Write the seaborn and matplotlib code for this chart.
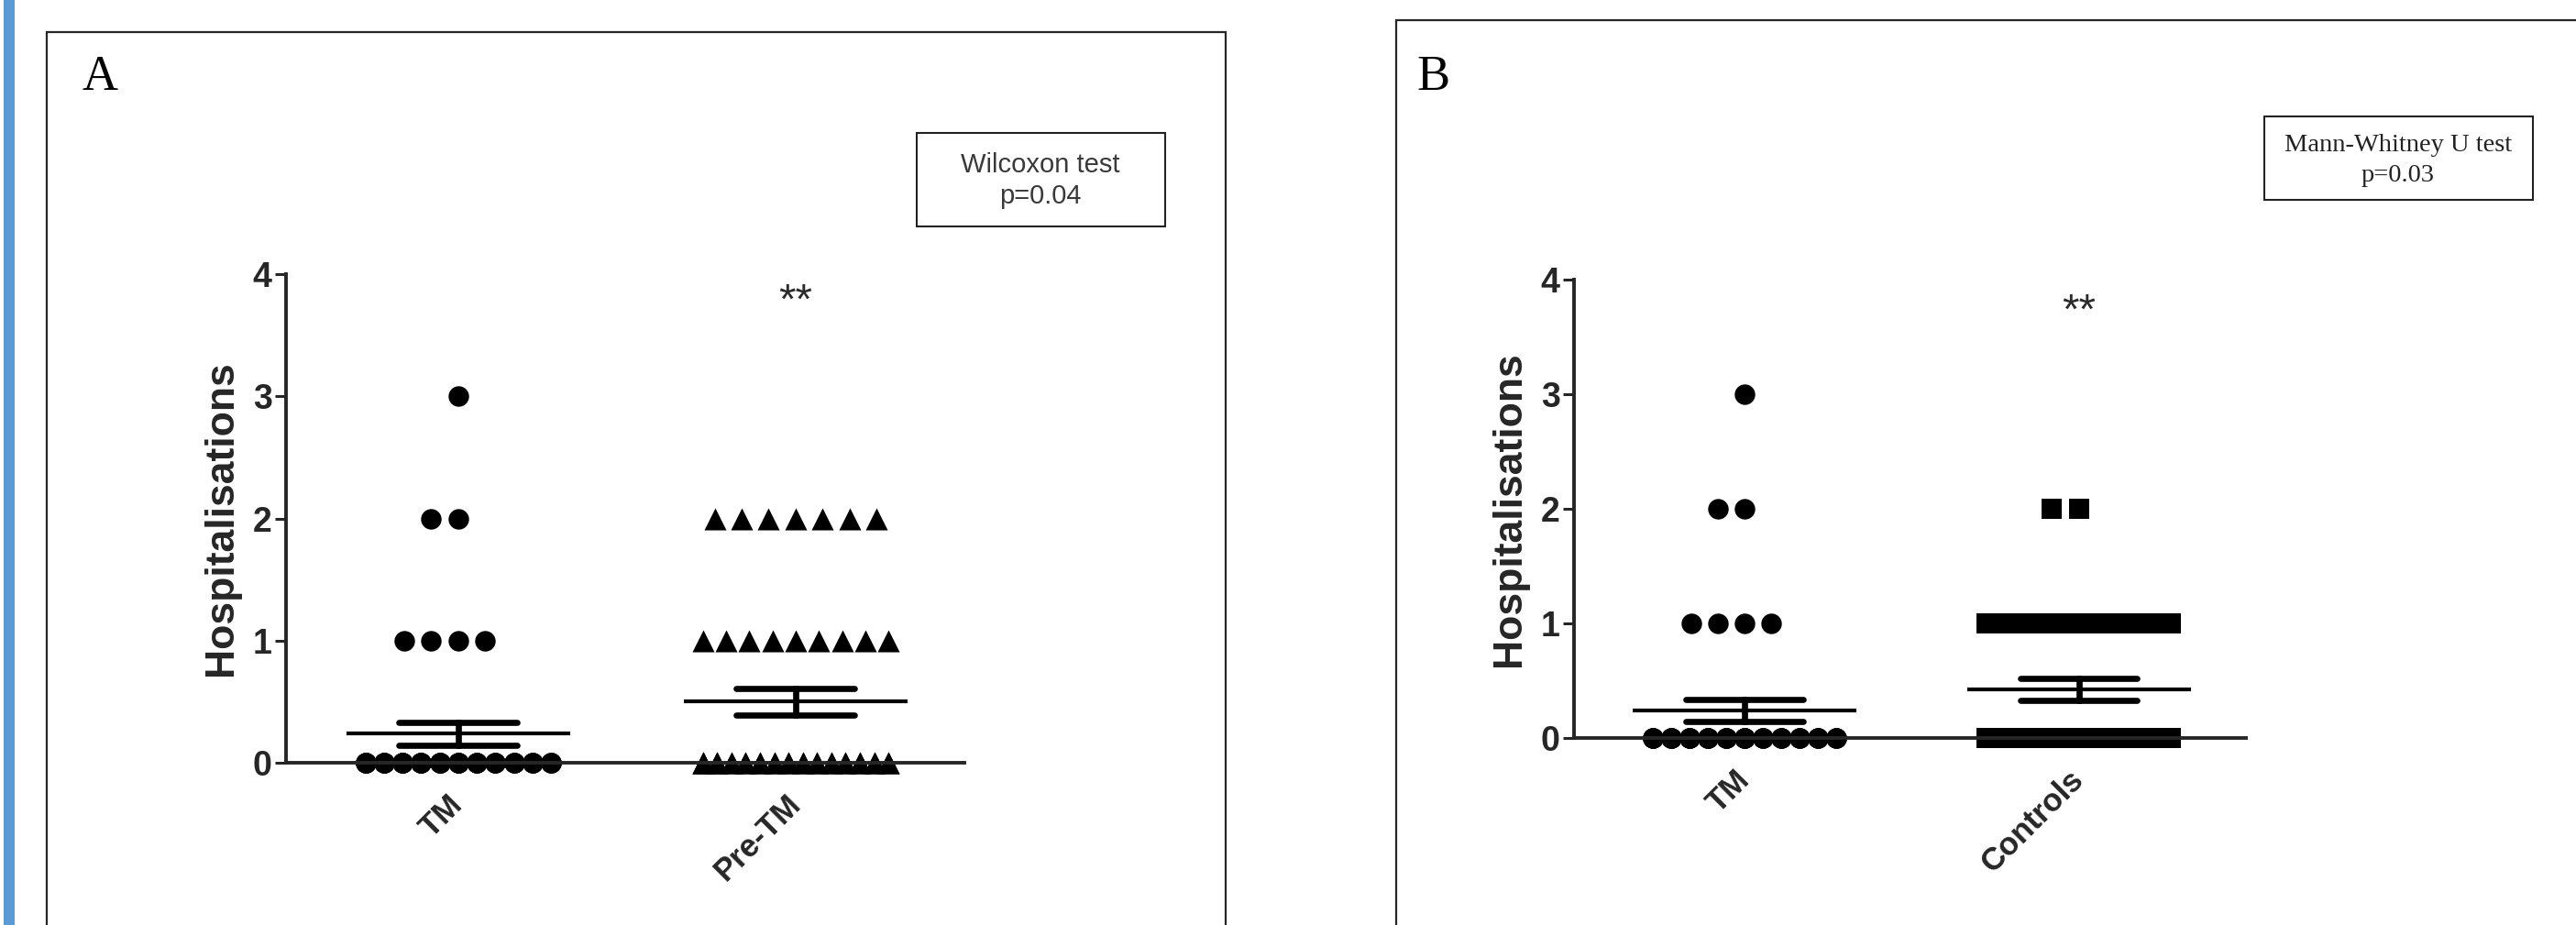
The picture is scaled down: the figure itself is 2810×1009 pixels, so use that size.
import numpy as np
import pandas as pd
import matplotlib
matplotlib.use("Agg")
import matplotlib.pyplot as plt
import seaborn as sns
from matplotlib.patches import Rectangle

# ---------------- data (counts of patients per number of hospitalisations) ----
levels = [0, 1, 2, 3]
tm_counts = [39, 4, 2, 1]          # TM group
pretm_counts = [30, 9, 7, 0]       # same patients before TM
controls_counts = [25, 13, 2, 0]   # controls

cats_A = ["TM", "Pre-TM"]
cats_B = ["TM", "Controls"]
y_ticks = [0, 1, 2, 3, 4]
y_label = "Hospitalisations"
test_A = ["Wilcoxon test", "p=0.04"]
test_B = ["Mann-Whitney U test", "p=0.03"]
panel_letters = ["A", "B"]
signif = "**"

tm_values = np.repeat(levels, tm_counts)
pretm_values = np.repeat(levels, pretm_counts)
controls_values = np.repeat(levels, controls_counts)

# ---------------- style ----------------
sns.set_style("ticks")
plt.rcParams["font.family"] = ["Liberation Sans", "DejaVu Sans"]

W, H = 2810, 1009
fig = plt.figure(figsize=(W / 100, H / 100), dpi=100)


def fx(px):
    return px / W


def fy(py):
    return 1 - py / H


def spread(values, center, min_gap, step=0.08, max_width=0.55):
    """GraphPad-like column scatter layout: points of equal value side by side;
    crowded rows are squeezed into a fixed width (points share slots)."""
    values = np.asarray(values)
    xs = np.empty(len(values), float)
    for v in np.unique(values):
        idx = np.where(values == v)[0]
        k = len(idx)
        if k < 2 or (k - 1) * step <= max_width:
            ranks = np.array([((i + 1) // 2) * (-1 if i % 2 else 1) for i in range(k)])
            xs[idx] = center + ranks * step
        else:
            n_slots = min(k, int(max_width / min_gap) + 1)
            slots = np.linspace(-max_width / 2, max_width / 2, n_slots)
            xs[idx] = center + slots[np.arange(k) % n_slots]
    return xs


def panel(rect, cats, vals_list, markers, sizes, gaps, star_y):
    ax = fig.add_axes(rect)
    frames = []
    for c, v in zip(cats, vals_list):
        frames.append(pd.DataFrame({"group": c, "value": v}))
    df = pd.concat(frames, ignore_index=True)
    for i, (c, m, s, g) in enumerate(zip(cats, markers, sizes, gaps)):
        vals = df.loc[df.group == c, "value"].to_numpy()
        xs = spread(vals, i, g)
        sns.scatterplot(x=xs, y=vals, marker=m, s=s, color="black",
                        edgecolor="black", linewidth=0, clip_on=False,
                        ax=ax, legend=False)
    sns.pointplot(data=df, x="group", y="value", order=cats, errorbar="se",
                  capsize=0.35, linestyle="none", marker="_", markersize=176,
                  markeredgewidth=3, color="black",
                  err_kws={"linewidth": 4.8, "solid_capstyle": "round"}, ax=ax)
    ax.set_xlim(-0.51, 1.5)
    ax.set_ylim(0, 4)
    ax.set_xticks([0, 1])
    ax.set_xticklabels(cats, rotation=45, ha="right", va="center",
                       rotation_mode="anchor", fontsize=25, fontweight="bold")
    ax.set_yticks(y_ticks)
    ax.set_yticklabels([str(t) for t in y_ticks], fontsize=27, fontweight="bold")
    sns.despine(ax=ax)
    for sp in ("left", "bottom"):
        ax.spines[sp].set_linewidth(2.8)
    ax.tick_params(axis="y", length=9, width=2.2, pad=2)
    ax.tick_params(axis="x", length=7, width=2.2, pad=22)
    ax.set_xlabel("")
    ax.set_ylabel(y_label, fontsize=32, fontweight="bold", labelpad=10)
    ax.text(1, star_y, signif, ha="center", va="baseline", fontsize=34,
            color="#2a2a2a")
    ax.patch.set_alpha(0)
    return ax


# Panel A axes: x from 312 to 1052 px, y0 at 832, y4 at 299
panel([fx(312), fy(832), fx(1052) - fx(312), fy(299) - fy(832)],
      cats_A, [tm_values, pretm_values], ["o", "^"], [260, 300], [0.055, 0.04], 3.68)
# Panel B axes: x from 1717 to 2450 px, y0 at 805, y4 at 305
panel([fx(1717), fy(805), fx(2450) - fx(1717), fy(305) - fy(805)],
      cats_B, [tm_values, controls_values], ["o", "s"], [260, 272], [0.055, 0.03], 3.62)

# ---------------- decorations ----------------
# blue margin stripe
fig.patches.append(Rectangle((fx(4), 0), fx(12), 1, transform=fig.transFigure,
                             facecolor="#5b9bd5", edgecolor="none"))
# panel frames
fig.patches.append(Rectangle((fx(51), -0.05), fx(1337) - fx(51), fy(35) + 0.05,
                             transform=fig.transFigure, fill=False,
                             edgecolor="#262626", linewidth=1.6))
fig.patches.append(Rectangle((fx(1523), -0.05), 0.5, fy(22) + 0.05,
                             transform=fig.transFigure, fill=False,
                             edgecolor="#262626", linewidth=1.6))
# test boxes
fig.patches.append(Rectangle((fx(1000), fy(247)), fx(1271) - fx(1000), fy(145) - fy(247),
                             transform=fig.transFigure, fill=False,
                             edgecolor="#222222", linewidth=1.5))
fig.patches.append(Rectangle((fx(2470), fy(218)), fx(2763) - fx(2470), fy(127) - fy(218),
                             transform=fig.transFigure, fill=False,
                             edgecolor="#222222", linewidth=1.5))
fig.text(fx(1135), fy(188), test_A[0], ha="center", va="baseline", fontsize=21,
         color="#3a3a3a")
fig.text(fx(1135), fy(222), test_A[1], ha="center", va="baseline", fontsize=21,
         color="#3a3a3a")
fig.text(fx(2616), fy(165), test_B[0], ha="center", va="baseline", fontsize=20.5,
         color="#222222", family=["Liberation Serif", "DejaVu Serif"])
fig.text(fx(2616), fy(198), test_B[1], ha="center", va="baseline", fontsize=20.5,
         color="#222222", family=["Liberation Serif", "DejaVu Serif"])
# panel letters
fig.text(fx(90), fy(98), panel_letters[0], ha="left", va="baseline", fontsize=39,
         color="black", family=["Liberation Serif", "DejaVu Serif"])
fig.text(fx(1545), fy(98), panel_letters[1], ha="left", va="baseline", fontsize=39,
         color="black", family=["Liberation Serif", "DejaVu Serif"])

fig.savefig("out.png", dpi=100, facecolor="white")
